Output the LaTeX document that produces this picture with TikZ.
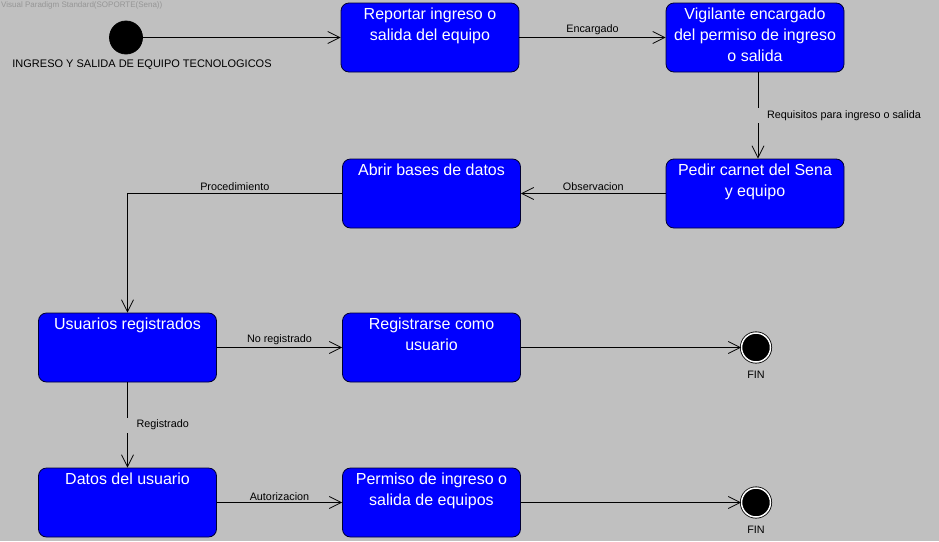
\documentclass[tikz,border=0pt]{standalone}
\usepackage{fontspec}
\setmainfont{Liberation Sans}
\usetikzlibrary{automata, arrows.meta, positioning}
\definecolor{fondo}{RGB}{192,192,192}
\definecolor{azul}{RGB}{0,0,255}
\definecolor{marca}{RGB}{150,150,150}
\newcommand{\acttext}[1]{\parbox[c][60pt][t]{169pt}{\centering #1}}

\begin{document}
\begin{tikzpicture}[x=1pt, y=-1pt,
			every state/.style = {
				draw=black, fill=black, inner sep=0pt, line width=0.8pt
			},
			accepting/.style = {double=white, double distance=1.5pt},
			actividad/.style = {draw=black!80!blue, fill=azul, rounded corners=8pt,
				text=white, inner sep=4.5pt, line width=0.8pt,
				font=\fontsize{16}{21}\selectfont},
			flecha/.style = {-{Straight Barb[length=12pt,width=12pt]}, line width=0.8pt},
			etiqueta/.style = {font=\fontsize{10.8}{12}\selectfont, text=black},
			arriba/.style = {etiqueta, above, inner sep=2pt},
			hueco/.style = {fill=fondo, minimum width=6pt, minimum height=15pt, inner sep=0pt}]
			\useasboundingbox (0,0) rectangle (939,541);
			\fill[fondo] (0,0) rectangle (939,541);
			\node[anchor=north west, inner sep=1pt, text=marca,
			font=\fontsize{8}{9}\selectfont] (marca) at (0,0.5) {Visual Paradigm Standard(SOPORTE(Sena))};
			% estados
			\node (inicio) [state, minimum size=33pt] at (126,37.5) {};
			\node (titulo) [etiqueta, font=\fontsize{11}{13}\selectfont] at (142,65) {INGRESO Y SALIDA DE EQUIPO TECNOLOGICOS};
			\node (reportar) [actividad] at (430,37.5) {\acttext{Reportar ingreso o\\ salida del equipo}};
			\node (vigilante) [actividad] at (755,37.5) {\acttext{Vigilante encargado\\ del permiso de ingreso\\ o salida}};
			\node (pedir) [actividad] at (755,193.5) {\acttext{Pedir carnet del Sena\\ y equipo}};
			\node (abrir) [actividad] at (431.5,193.5) {\acttext{Abrir bases de datos}};
			\node (usuarios) [actividad] at (127.5,347.5) {\acttext{Usuarios registrados}};
			\node (registrarse) [actividad] at (431.5,347.5) {\acttext{Registrarse como\\ usuario}};
			\node (datos) [actividad] at (127.5,502.5) {\acttext{Datos del usuario}};
			\node (permiso) [actividad] at (431.5,502.5) {\acttext{Permiso de ingreso o\\ salida de equipos}};
			\node (fin1) [state, accepting, minimum size=29pt,
			label={[etiqueta, label distance=5pt]below:FIN}] at (756,347.5) {};
			\node (fin2) [state, accepting, minimum size=29pt,
			label={[etiqueta, label distance=5pt]below:FIN}] at (756,502.5) {};
			% transiciones
			\path [flecha]
			(inicio) edge (reportar)
			(reportar) edge node[arriba] {Encargado} (vigilante)
			([xshift=3pt]vigilante.south) edge node[hueco,
			label={[etiqueta, label distance=2pt]right:Requisitos para ingreso o salida}] {} ([xshift=3pt]pedir.north)
			(pedir) edge node[arriba] {Observacion} (abrir)
			(usuarios) edge node[arriba] {No registrado} (registrarse)
			(usuarios) edge node[hueco,
			label={[etiqueta, label distance=2pt]right:Registrado}] {} (datos)
			(datos) edge node[arriba] {Autorizacion} (permiso)
			(registrarse) edge (fin1)
			(permiso) edge (fin2);
			\draw [flecha] (abrir.west) -| node[arriba, pos=0.25] {Procedimiento} (usuarios.north);
		\end{tikzpicture}
\end{document}
